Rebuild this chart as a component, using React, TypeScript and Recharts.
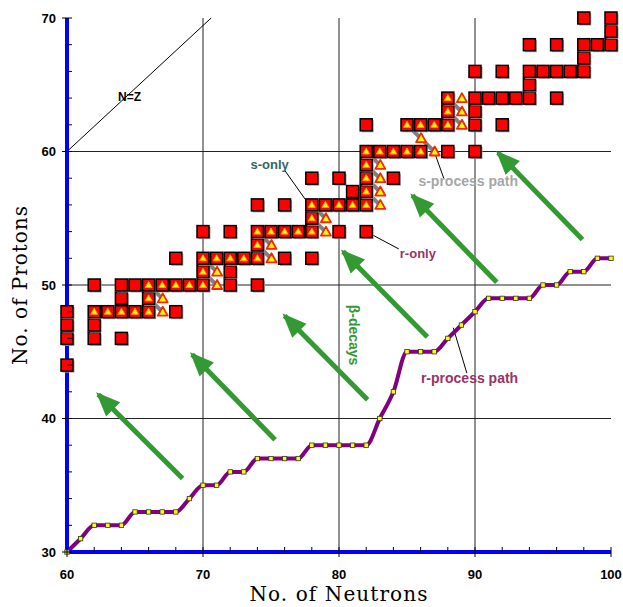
import React from 'react'
import {
  ComposedChart,
  XAxis,
  YAxis,
  CartesianGrid,
  Scatter,
  Line,
  ReferenceLine,
} from 'recharts'

// stable nuclei, plain red squares [N, Z]
const stableNuclei: [number, number][] = [
  [60, 44], [60, 46], [60, 47], [60, 48],
  [62, 46], [62, 47], [62, 50],
  [64, 46], [64, 49], [64, 50], [65, 50],
  [68, 48], [68, 52],
  [72, 50], [72, 51], [74, 50],
  [70, 54], [72, 54], [76, 52], [78, 52],
  [74, 56], [76, 56], [80, 54], [82, 54],
  [78, 58], [80, 58], [81, 57], [84, 58],
  [82, 62], [88, 60], [90, 60],
  [90, 62], [92, 62], [90, 63],
  [90, 64], [91, 64], [92, 64], [93, 64], [94, 64], [96, 64],
  [94, 65],
  [90, 66], [92, 66], [94, 66], [95, 66], [96, 66], [97, 66], [98, 66],
  [98, 67],
  [94, 68], [96, 68], [98, 68], [99, 68], [100, 68],
  [100, 69],
  [98, 70], [100, 70],
]

// nuclei on the s-process path (square with triangle)
const sPathNuclei: [number, number][] = [
  [62, 48], [63, 48], [64, 48], [65, 48], [66, 48],
  [66, 49],
  [66, 50], [67, 50], [68, 50], [69, 50], [70, 50],
  [70, 51],
  [70, 52], [71, 52], [72, 52], [73, 52], [74, 52],
  [74, 53],
  [74, 54], [75, 54], [76, 54], [77, 54], [78, 54],
  [78, 55],
  [78, 56], [79, 56], [80, 56], [81, 56], [82, 56],
  [82, 57], [82, 58], [82, 59],
  [82, 60], [83, 60], [84, 60], [85, 60], [86, 60],
  [85, 62], [86, 62], [87, 62], [88, 62],
  [88, 63], [88, 64],
]

// unstable branch points (triangles)
const unstableNuclei: [number, number][] = [
  [67, 48], [67, 49], [71, 50], [71, 51], [75, 52], [75, 53],
  [79, 54], [79, 55], [83, 56], [83, 57], [83, 58], [83, 59],
  [87, 60], [86, 61], [89, 62], [89, 63], [89, 64],
]

// beta decays back onto the s-path
const betaSteps: [number, number][][] = [
  [[67, 48], [66, 49]], [[67, 49], [66, 50]],
  [[71, 50], [70, 51]], [[71, 51], [70, 52]],
  [[75, 52], [74, 53]], [[75, 53], [74, 54]],
  [[79, 54], [78, 55]], [[79, 55], [78, 56]],
  [[83, 56], [82, 57]], [[83, 57], [82, 58]], [[83, 58], [82, 59]], [[83, 59], [82, 60]],
  [[87, 60], [86, 61], [85, 62]],
  [[89, 62], [88, 63]], [[89, 63], [88, 64]],
]

// r-process path
const rPathN = [
  60, 61, 62, 63, 64, 65, 66, 67, 68, 69, 70, 71, 72, 73, 74, 75, 76, 77, 78, 79, 80,
  81, 82, 83, 84, 85, 86, 87, 88, 89, 90, 91, 92, 93, 94, 95, 96, 97, 98, 99, 100,
]
const rPathZ = [
  30, 31, 32, 32, 32, 33, 33, 33, 33, 34, 35, 35, 36, 36, 37, 37, 37, 37, 38, 38, 38,
  38, 38, 40, 42, 45, 45, 45, 46, 47, 48, 49, 49, 49, 49, 50, 50, 51, 51, 52, 52,
]

// green beta-decay arrows [tailN, tailZ, headN, headZ]
const decayArrows: [number, number, number, number][] = [
  [68.5, 35.5, 62.3, 41.8],
  [75.3, 38.4, 69.2, 44.8],
  [82.1, 41.4, 76.0, 47.7],
  [86.5, 46.1, 80.3, 52.5],
  [91.6, 50.2, 85.4, 56.7],
  [97.9, 53.4, 91.7, 59.9],
]

const nzLine: [number, number][] = [[60, 60], [70.6, 70]]

const notes = [
  { text: 'N=Z', x: 64.6, y: 64.1 },
  { text: 's-only', x: 74.9, y: 59.0 },
  { text: 'r-only', x: 85.8, y: 52.4 },
  { text: 's-process path', x: 89.5, y: 57.8 },
  { text: 'r-process path', x: 89.6, y: 43.0 },
  { text: 'β-decays', x: 81.1, y: 46.25 },
]

const leaders: [number, number][][] = [
  [[76.0, 58.6], [77.6, 56.3]],
  [[82.0, 54.0], [84.4, 52.7]],
  [[87.0, 60.0], [87.7, 58.0]],
  [[88.4, 46.8], [89.4, 43.4]],
]

const xTicks = [60, 62, 64, 66, 68, 70, 72, 74, 76, 78, 80, 82, 84, 86, 88, 90, 92, 94, 96, 98, 100]
const xLabels = [60, 70, 80, 90, 100]
const yTicks = [30, 32, 34, 36, 38, 40, 42, 44, 46, 48, 50, 52, 54, 56, 58, 60, 62, 64, 66, 68, 70]
const yLabels = [30, 40, 50, 60, 70]

const noteStyle: Record<string, { fill: string; size: number; rotate?: number }> = {
  'N=Z': { fill: '#000000', size: 12 },
  's-only': { fill: '#336666', size: 13 },
  'r-only': { fill: '#993366', size: 13 },
  's-process path': { fill: '#a6a6a6', size: 14 },
  'r-process path': { fill: '#993366', size: 14 },
  'β-decays': { fill: '#339933', size: 14, rotate: 90 },
}

const SANS = '"Liberation Sans", Arial, sans-serif'
const SERIF = '"DejaVu Serif", serif'
const BLUE = '#0000ff'

const toPts = (list: [number, number][]) => list.map(([x, y]) => ({ x, y }))

function Square({ cx, cy }: any) {
  return (
    <g>
      <rect x={cx - 4.5} y={cy - 4.5} width={12} height={12} fill="#a0a0a0" />
      <rect x={cx - 6} y={cy - 6} width={12} height={12} fill="#ff0000" stroke="#000" strokeWidth={1.5} />
    </g>
  )
}

function SSquare(props: any) {
  const { cx, cy } = props
  return (
    <g>
      <Square cx={cx} cy={cy} />
      <polygon
        points={`${cx},${cy - 3.5} ${cx - 3.5},${cy + 2.5} ${cx + 3.5},${cy + 2.5}`}
        fill="#ffff00"
        stroke="#ff9900"
        strokeWidth={1}
      />
    </g>
  )
}

function Triangle({ cx, cy }: any) {
  return (
    <polygon
      points={`${cx + 0.5},${cy - 5} ${cx - 4.5},${cy + 4} ${cx + 5.5},${cy + 4}`}
      fill="#ffff00"
      stroke="#ff2200"
      strokeWidth={1.8}
      strokeLinejoin="round"
    />
  )
}

function PathDot({ cx, cy, index }: any) {
  return <rect key={index} x={cx - 2.2} y={cy - 2.2} width={4.4} height={4.4} fill="#ffff00" stroke="#333" strokeWidth={0.8} />
}

function ArrowHead(props: any) {
  const { cx, cy, index, points } = props
  if (index !== 1) return <g key={index} />
  let ux = 0.707
  let uy = 0.707
  if (points && points.length > 1) {
    const dx = points[0].x - points[1].x
    const dy = points[0].y - points[1].y
    const len = Math.hypot(dx, dy) || 1
    ux = dx / len
    uy = dy / len
  }
  const tx = cx - ux * 3
  const ty = cy - uy * 3
  const L = 24
  const W = 10
  const bx = tx + ux * L
  const by = ty + uy * L
  return (
    <polygon
      key={index}
      points={`${tx},${ty} ${bx - uy * W},${by + ux * W} ${bx + uy * W},${by - ux * W}`}
      fill="#339933"
    />
  )
}

function Note({ cx, cy, payload }: any) {
  const s = noteStyle[payload.text]
  return (
    <text
      x={cx}
      y={cy}
      dy="0.35em"
      textAnchor="middle"
      fill={s.fill}
      fontSize={s.size}
      fontWeight="bold"
      fontFamily={SANS}
      transform={s.rotate ? `rotate(${s.rotate}, ${cx}, ${cy})` : undefined}
    >
      {payload.text}
    </text>
  )
}

function XTick({ x, y, payload }: any) {
  const major = xLabels.includes(payload.value)
  return (
    <g>
      <line x1={x} x2={x} y1={y - 5} y2={major ? y + 5 : y} stroke="#000" strokeWidth={1} />
      {major && (
        <text x={x} y={y + 27} textAnchor="middle" fontFamily={SANS} fontWeight="bold" fontSize={13} fill="#000">
          {payload.value}
        </text>
      )}
    </g>
  )
}

function YTick({ x, y, payload }: any) {
  const major = yLabels.includes(payload.value)
  return (
    <g>
      <line x1={major ? x - 5 : x} x2={x + 5} y1={y} y2={y} stroke="#000" strokeWidth={1} />
      {major && (
        <text x={x - 11} y={y} dy="0.36em" textAnchor="end" fontFamily={SANS} fontWeight="bold" fontSize={13} fill="#000">
          {payload.value}
        </text>
      )}
    </g>
  )
}

export default function App() {
  const rPath = rPathN.map((n, i) => ({ x: n, y: rPathZ[i] }))
  return (
    <div style={{ position: 'absolute', left: 0, top: 0, width: 623, height: 607 }}>
      <ComposedChart width={623} height={607} margin={{ top: 18, right: 12, bottom: 0, left: 8 }}>
        <CartesianGrid horizontalValues={[40, 50, 60]} verticalValues={[70, 80, 90]} stroke="#222" strokeWidth={1} />
        <XAxis
          type="number"
          dataKey="x"
          domain={[60, 100]}
          ticks={xTicks}
          interval={0}
          height={55}
          tickSize={0}
          tickMargin={0}
          tickLine={false}
          tick={<XTick />}
          axisLine={{ stroke: BLUE, strokeWidth: 4 }}
          label={{
            value: 'No. of Neutrons',
            position: 'insideBottom',
            offset: 6,
            style: { fontFamily: SERIF, fontSize: 20, letterSpacing: 1.1, fill: '#000' },
          }}
        />
        <YAxis
          type="number"
          dataKey="y"
          domain={[30, 70]}
          ticks={yTicks}
          interval={0}
          width={59}
          tickSize={0}
          tickMargin={0}
          tickLine={false}
          tick={<YTick />}
          axisLine={{ stroke: BLUE, strokeWidth: 4 }}
          label={{
            value: 'No. of Protons',
            position: 'insideLeft',
            angle: -90,
            offset: 12,
            style: { fontFamily: SERIF, fontSize: 20, letterSpacing: 1, fill: '#000', textAnchor: 'middle' },
          }}
        />
        <XAxis
          xAxisId="top"
          orientation="top"
          type="number"
          domain={[60, 100]}
          height={0}
          tick={false}
          tickLine={false}
          axisLine={{ stroke: BLUE, strokeWidth: 4 }}
        />
        <YAxis
          yAxisId="right"
          orientation="right"
          type="number"
          domain={[30, 70]}
          width={0}
          tick={false}
          tickLine={false}
          axisLine={{ stroke: BLUE, strokeWidth: 4 }}
        />

        <ReferenceLine segment={toPts(nzLine)} stroke="#000" strokeWidth={1} ifOverflow="visible" />
        {leaders.map((seg, i) => (
          <ReferenceLine key={'ld' + i} segment={toPts(seg)} stroke="#000" strokeWidth={1} ifOverflow="visible" />
        ))}

        {betaSteps.map((seg, i) => (
          <Line
            key={'bs' + i}
            data={toPts(seg)}
            dataKey="y"
            type="linear"
            stroke="#808080"
            strokeWidth={4}
            dot={false}
            activeDot={false}
            isAnimationActive={false}
          />
        ))}

        {decayArrows.map(([tn, tz, hn, hz], i) => (
          <Line
            key={'da' + i}
            data={[{ x: tn, y: tz }, { x: hn, y: hz }]}
            dataKey="y"
            type="linear"
            stroke="#339933"
            strokeWidth={5}
            dot={<ArrowHead />}
            activeDot={false}
            isAnimationActive={false}
          />
        ))}

        <Line
          data={rPath}
          dataKey="y"
          type="monotone"
          stroke="#800080"
          strokeWidth={4}
          dot={<PathDot />}
          activeDot={false}
          isAnimationActive={false}
        />

        <Scatter data={toPts(stableNuclei)} dataKey="y" shape={<Square />} isAnimationActive={false} />
        <Scatter data={toPts(sPathNuclei)} dataKey="y" shape={<SSquare />} isAnimationActive={false} />
        <Scatter data={toPts(unstableNuclei)} dataKey="y" shape={<Triangle />} isAnimationActive={false} />
        <Scatter data={notes} dataKey="y" shape={<Note />} isAnimationActive={false} />
      </ComposedChart>
    </div>
  )
}
